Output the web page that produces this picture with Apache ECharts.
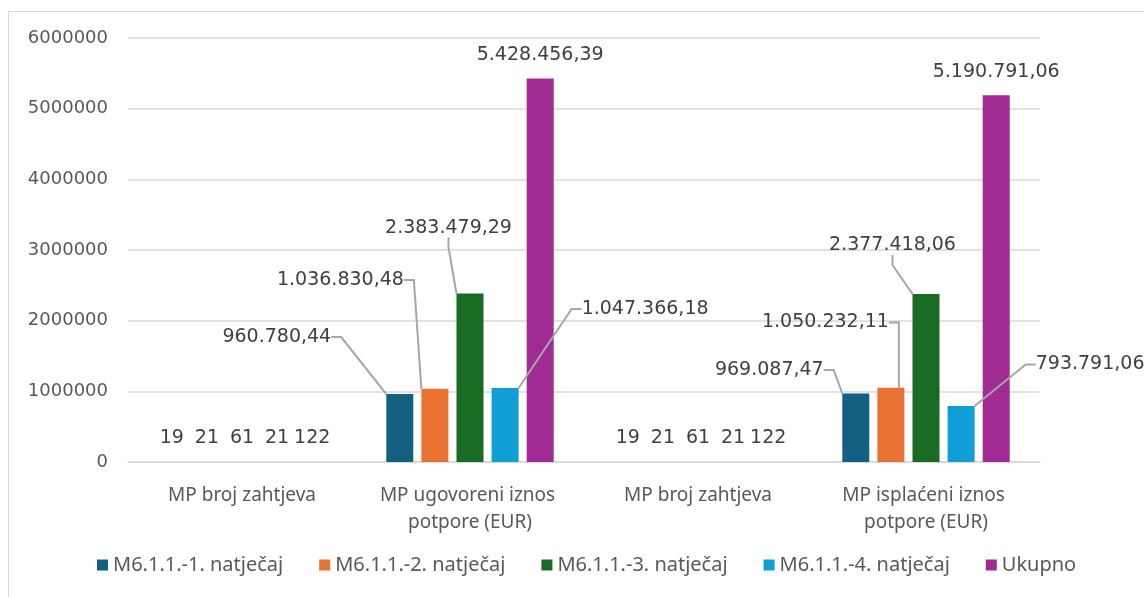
<!DOCTYPE html>
<html><head><meta charset="utf-8">
<script src="https://cdn.jsdelivr.net/npm/echarts@6/dist/echarts.min.js"></script>
<style>
html,body{margin:0;padding:0;background:#fff;overflow:hidden}
#frame{position:absolute;left:8px;top:11px;width:2000px;height:2000px;border:1.5px solid #d9d9d9;box-sizing:border-box}
#c{position:absolute;left:0;top:0;width:1144px;height:597px}
</style></head>
<body><div id="frame"></div><div id="c"></div>
<script>
const categories = ['MP broj zahtjeva', 'MP ugovoreni iznos potpore (EUR)', 'MP broj zahtjeva', 'MP isplaćeni iznos potpore (EUR)'];
const seriesNames = ['M6.1.1.-1. natječaj', 'M6.1.1.-2. natječaj', 'M6.1.1.-3. natječaj', 'M6.1.1.-4. natječaj', 'Ukupno'];
const natjecaj1 = [19, 960780.44, 19, 969087.47];
const natjecaj2 = [21, 1036830.48, 21, 1050232.11];
const natjecaj3 = [61, 2383479.29, 61, 2377418.06];
const natjecaj4 = [21, 1047366.18, 21, 793791.06];
const ukupno = [122, 5428456.39, 122, 5190791.06];
const yMin = 0, yMax = 6000000, yStep = 1000000;

// label placement offsets (relative to bar top centre) for the moved labels
const labelOffsets = {
  1: [[-123, -57], [-94.5, -108.7], [-21.5, -65.6], [140, -79]],
  3: [[-86.5, -23.5], [-65.5, -65.3], [-33.5, -48.5], [129, -41.4]]
};
const colors = ['#156082', '#E97132', '#196B24', '#0F9ED5', '#A02B93'];

function fmt(v) {
  if (Number.isInteger(v)) return String(v);
  const parts = v.toFixed(2).split('.');
  return parts[0].replace(/\B(?=(\d{3})+(?!\d))/g, '.') + ',' + parts[1];
}

const seriesData = [natjecaj1, natjecaj2, natjecaj3, natjecaj4, ukupno];
const chart = echarts.init(document.getElementById('c'));
chart.setOption({
  animation: false,
  color: colors,
  grid: { left: 128, right: 104, top: 38, bottom: 135, outerBoundsMode: 'none' },
  legend: {
    left: 97, top: 555, padding: 0, icon: 'rect', itemWidth: 11, itemHeight: 11, itemGap: 36,
    textStyle: { fontFamily: 'Noto Sans', fontSize: 20, color: '#595959' },
    data: seriesNames
  },
  xAxis: {
    type: 'category', data: categories,
    axisTick: { show: false },
    axisLine: { lineStyle: { color: '#d9d9d9', width: 1.5 } },
    axisLabel: { interval: 0, width: 200, overflow: 'break', fontFamily: 'Noto Sans', fontSize: 19,
      color: '#595959', lineHeight: 27, margin: 20 }
  },
  yAxis: {
    type: 'value', min: yMin, max: yMax, interval: yStep,
    axisLine: { show: false }, axisTick: { show: false },
    splitLine: { lineStyle: { color: '#d9d9d9', width: 1.5 } },
    axisLabel: { fontFamily: 'DejaVu Sans', fontSize: 18, color: '#595959', margin: 20,
      formatter: v => String(v) }
  },
  series: seriesNames.map((name, si) => ({
    name, type: 'bar', z: si === 4 ? 1 : 2,
    data: seriesData[si].map((v, di) => ({
      value: v,
      labelLine: { show: si < 4 && !!labelOffsets[di] }
    })),
    barWidth: 27, barGap: '30%',
    label: { show: true, position: 'top', distance: 14, formatter: p => fmt(p.value),
      fontFamily: 'DejaVu Sans', fontSize: 19, color: '#404040' },
    labelLine: { show: false, length2: 10, lineStyle: { color: '#a6a6a6', width: 2 } },
    labelLayout: function (p) {
      const o = labelOffsets[p.dataIndex];
      if (!o || p.seriesIndex > 3) return {};
      const r = p.rect;
      const top = Math.min(r.y, r.y + r.height);
      return { x: r.x + r.width / 2 + o[p.seriesIndex][0], y: top + o[p.seriesIndex][1],
        align: 'center', verticalAlign: 'middle' };
    }
  }))
});
</script></body></html>
